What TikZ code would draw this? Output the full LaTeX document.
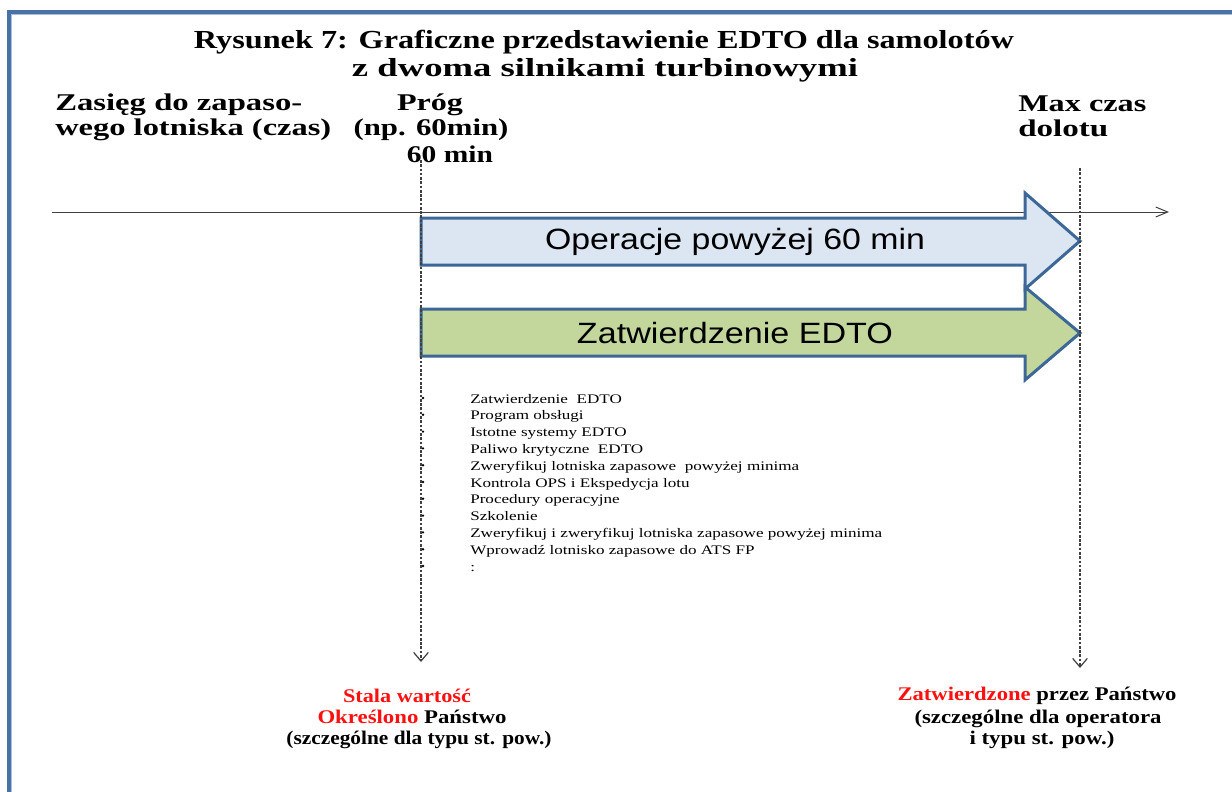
\documentclass[tikz,border=0pt]{standalone}
\usepackage{fontspec}
\setmainfont{Liberation Serif}
\newfontfamily\sansf{Liberation Sans}
\usetikzlibrary{arrows.meta}
\newlength\fitlen
\newcommand\fitw[2]{\setlength\fitlen{\dimexpr0.75pt*#1\relax}\resizebox{\fitlen}{\height}{#2}}
\definecolor{frameblue}{HTML}{4A71A5}
\definecolor{framelight}{HTML}{A9BEDC}
\definecolor{arrowline}{HTML}{3D6797}
\definecolor{bluefill}{HTML}{DCE6F2}
\definecolor{greenfill}{HTML}{C3D69B}
\definecolor{axisgray}{HTML}{404040}
\definecolor{redtxt}{HTML}{FF1010}
\begin{document}
\begin{tikzpicture}[x=0.75pt,y=-0.75pt,
  ttl/.style={inner sep=0pt,anchor=base,font=\fontsize{19.5}{23}\selectfont\bfseries},
  lbl/.style={inner sep=0pt,font=\fontsize{18}{21}\selectfont\bfseries},
  btm/.style={inner sep=0pt,anchor=base,font=\fontsize{14.5}{17}\selectfont\bfseries},
  lst/.style={inner sep=0pt,anchor=north west,align=left,font=\fontsize{9.8}{12.6}\selectfont},
  arrtxt/.style={inner sep=0pt,font=\fontsize{22}{26}\selectfont\sansf},
  bigarrow/.style={draw=arrowline,line width=2.25pt,line join=miter},
  dashv/.style={axisgray,line width=0.8pt,dash pattern=on 2pt off 1.2pt,
    -{Straight Barb[length=6.5pt,width=11pt,line width=0.9pt]}},
  axisline/.style={axisgray,line width=0.75pt,
    -{Straight Barb[length=9pt,width=7.5pt,line width=0.75pt]}},
  bullet/.style={fill=black,circle,inner sep=0pt,minimum size=2pt}]
\useasboundingbox (0,0) rectangle (1232,792);
% frame
\draw[frameblue,line width=3pt,line join=miter] (1240,12) -- (9,12) -- (9,800);
\draw[framelight,line width=0.8pt] (1240,14.6) -- (11.6,14.6) -- (11.6,800);
% title
\node[ttl] (t1) at (604,49) {\fitw{820}{Rysunek 7: Graficzne przedstawienie EDTO dla samolotów}};
\node[ttl] (t2) at (605,76) {\fitw{506}{z dwoma silnikami turbinowymi}};
% top labels
\node[lbl,anchor=base west] (z1) at (55,111) {\fitw{247}{Zasięg do zapaso-}};
\node[lbl,anchor=base west] (z2) at (55,136) {\fitw{276}{wego lotniska (czas)}};
\node[lbl,anchor=base] (p1) at (430,111) {\fitw{66}{Próg}};
\node[lbl,anchor=base] (p2) at (431,136) {\fitw{155}{(np. 60min)}};
\node[lbl,anchor=base] (p3) at (450,162) {\fitw{86}{60 min}};
\node[lbl,anchor=base west] (m1) at (1018,112) {\fitw{128}{Max czas}};
\node[lbl,anchor=base west] (m2) at (1018,137) {\fitw{90}{dolotu}};
% axis
\coordinate (axL) at (52,212);
\coordinate (axR) at (1169,212);
\draw[axisline] (axL) -- (axR);
% big arrows
\draw[bigarrow,fill=bluefill] (421,218) -- (1025,218) -- (1025,193) -- (1080,241)
  -- (1025,289) -- (1025,265) -- (421,265) -- cycle;
\draw[bigarrow,fill=greenfill] (421,309) -- (1025,309) -- (1025,287) -- (1080,333)
  -- (1025,380) -- (1025,356) -- (421,356) -- cycle;
\node[arrtxt] (a1) at (735,242) {\fitw{380}{Operacje powyżej 60 min}};
\node[arrtxt] (a2) at (735,333) {\fitw{316}{Zatwierdzenie EDTO}};
% list
\node[lst] (list) at (470,391) {\fitw{412}{\begin{tabular}[t]{@{}l@{}}
Zatwierdzenie\ \ EDTO\\
Program obsługi\\
Istotne systemy EDTO\\
Paliwo krytyczne\ \ EDTO\\
Zweryfikuj lotniska zapasowe\ \ powyżej minima\\
Kontrola OPS i Ekspedycja lotu\\
Procedury operacyjne\\
Szkolenie\\
Zweryfikuj i zweryfikuj lotniska zapasowe powyżej minima\\
Wprowadź lotnisko zapasowe do ATS FP\\
:
\end{tabular}}};
\foreach \i in {0,...,10} {
  \node[bullet] (b\i) at (423,{398+16.8*\i}) {};
}
% dashed verticals
\coordinate (d1top) at (421,160);
\coordinate (d1bot) at (421,662);
\coordinate (d2top) at (1080,168);
\coordinate (d2bot) at (1080,668);
\draw[dashv] (d1top) -- (d1bot);
\draw[dashv] (d2top) -- (d2bot);
% bottom labels
\node[btm] (s1) at (407,702) {\fitw{128}{\textcolor{redtxt}{Stala wartość}}};
\node[btm] (s2) at (412,723) {\fitw{189}{\textcolor{redtxt}{Określono} Państwo}};
\node[btm] (s3) at (419,744) {\fitw{265}{(szczególne dla typu st. pow.)}};
\node[btm] (r1) at (1037,700) {\fitw{279}{\textcolor{redtxt}{Zatwierdzone} przez Państwo}};
\node[btm] (r2) at (1038,723) {\fitw{247}{(szczególne dla operatora}};
\node[btm] (r3) at (1042,744) {\fitw{145}{i typu st. pow.)}};
\end{tikzpicture}
\end{document}
